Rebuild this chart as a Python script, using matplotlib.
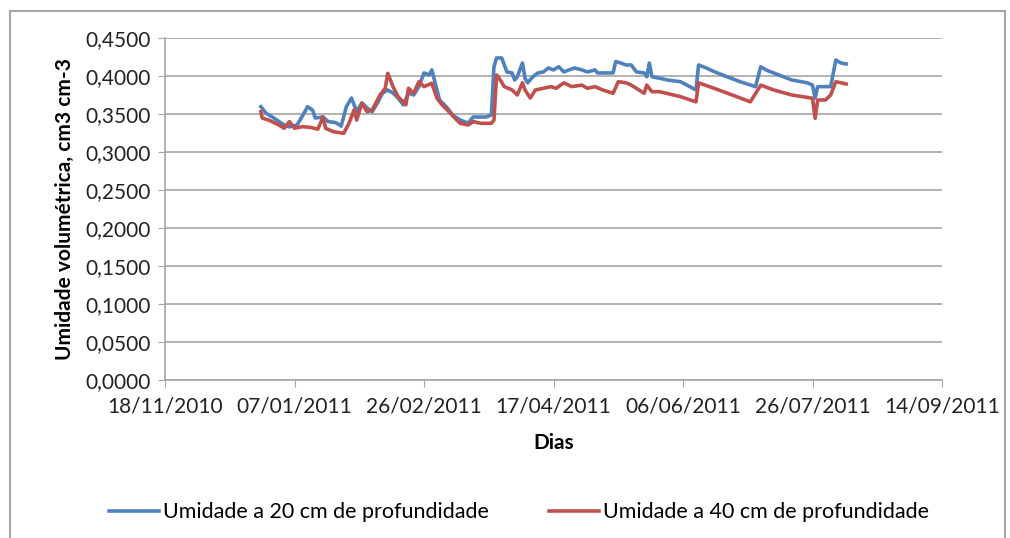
import matplotlib.pyplot as plt
import matplotlib.dates as mdates
import matplotlib.ticker as mticker
import pandas as pd
from matplotlib.patches import Rectangle

# dias contados a partir de 18/11/2010 (origem do eixo)
inicio = pd.Timestamp("2010-11-18")

dias_20 = [37, 39, 42, 46, 48, 51, 54, 55, 57, 58, 61, 63, 66, 68, 70, 72, 73, 74,
           76, 78, 80, 82, 84, 86, 88, 90, 92, 94, 96, 98, 100, 102, 103, 105, 106,
           109, 111, 114, 117, 119, 122, 124, 126, 127, 128, 130, 132, 134, 135, 136,
           138, 139, 140, 142, 144, 146, 148, 150, 152, 154, 156, 158, 161, 163, 166,
           167, 170, 173, 174, 176, 178, 180, 182, 185, 186, 187, 188, 191, 194, 199,
           205, 206, 209, 212, 217, 222, 228, 230, 232, 237, 242, 248, 250, 251, 252,
           254, 257, 259, 261, 263]
umid_20 = [0.3596, 0.351, 0.3447, 0.3355, 0.333, 0.3355, 0.353, 0.3596, 0.355, 0.3447,
           0.346, 0.340, 0.3386, 0.334, 0.3596, 0.371, 0.362, 0.353, 0.3645, 0.358,
           0.353, 0.3645, 0.3776, 0.3816, 0.3776, 0.371, 0.362, 0.3776, 0.375, 0.386,
           0.404, 0.4013, 0.408, 0.3816, 0.3684, 0.358, 0.3487, 0.342, 0.338, 0.346,
           0.346, 0.346, 0.3487, 0.4122, 0.4237, 0.4237, 0.4053, 0.404, 0.3947, 0.399,
           0.417, 0.397, 0.391, 0.399, 0.404, 0.4053, 0.4105, 0.408, 0.4122, 0.4053,
           0.408, 0.4105, 0.408, 0.4053, 0.408, 0.404, 0.404, 0.404, 0.419, 0.417,
           0.4145, 0.4145, 0.4053, 0.404, 0.399, 0.417, 0.399, 0.397, 0.3947, 0.3925,
           0.3816, 0.4145, 0.4105, 0.4057, 0.399, 0.3925, 0.386, 0.4122, 0.408, 0.4013,
           0.3947, 0.391, 0.388, 0.371, 0.386, 0.386, 0.386, 0.421, 0.417, 0.4158]

dias_40 = [37, 37.5, 40, 44, 46, 48, 50, 53, 56, 59, 61, 62, 65, 69, 71, 73, 74, 76,
           78, 80, 83, 85, 86, 88, 90, 93, 94, 96, 98, 100, 103, 105, 107, 109, 112,
           114, 117, 119, 122, 126, 127, 128, 129, 131, 134, 136, 138, 139, 141, 143,
           146, 149, 151, 154, 157, 161, 163, 166, 169, 173, 175, 178, 180, 182, 185,
           186, 188, 191, 199, 205, 206, 212, 219, 226, 230, 235, 242, 250, 251, 252,
           255, 257, 259, 263]
umid_40 = [0.353, 0.3447, 0.342, 0.3355, 0.3312, 0.340, 0.3312, 0.3333, 0.3325, 0.33,
           0.346, 0.3312, 0.3267, 0.3246, 0.3377, 0.3553, 0.342, 0.364, 0.353, 0.3553,
           0.375, 0.3838, 0.4035, 0.386, 0.3728, 0.362, 0.3838, 0.3772, 0.3925, 0.386,
           0.3904, 0.3707, 0.362, 0.3553, 0.3443, 0.3377, 0.3355, 0.340, 0.3377, 0.3377,
           0.342, 0.4013, 0.397, 0.386, 0.3816, 0.375, 0.391, 0.3816, 0.371, 0.3816,
           0.3838, 0.386, 0.3838, 0.391, 0.386, 0.388, 0.3838, 0.386, 0.3816, 0.3772,
           0.3925, 0.391, 0.388, 0.3838, 0.3772, 0.388, 0.3793, 0.3793, 0.3728, 0.366,
           0.391, 0.3838, 0.375, 0.366, 0.388, 0.3816, 0.375, 0.3707, 0.3443, 0.3684,
           0.3684, 0.375, 0.3925, 0.3895]

datas_20 = inicio + pd.to_timedelta(dias_20, unit="D")
datas_40 = inicio + pd.to_timedelta(dias_40, unit="D")

plt.rcParams['font.family'] = ['Lato', 'DejaVu Sans']

fig = plt.figure(figsize=(10.1, 5.38), dpi=100)
ax = fig.add_axes([0.1634, 0.2937, 0.7693, 0.6357])

ax.plot(datas_20, umid_20, color='#4F81BD', linewidth=2.6,
        label='Umidade a 20 cm de profundidade')
ax.plot(datas_40, umid_40, color='#C0504D', linewidth=2.6,
        label='Umidade a 40 cm de profundidade')

ax.set_ylim(0, 0.45)
ax.yaxis.set_major_locator(mticker.MultipleLocator(0.05))
ax.yaxis.set_major_formatter(mticker.FuncFormatter(lambda v, p: f"{v:.4f}".replace('.', ',')))

ticks = [inicio + pd.Timedelta(days=50 * i) for i in range(7)]
ax.set_xlim(ticks[0], ticks[-1])
ax.set_xticks(ticks)
ax.xaxis.set_major_formatter(mdates.DateFormatter('%d/%m/%Y'))

ax.grid(axis='y', color='#A6A6A6', linewidth=1.2)
ax.set_axisbelow(True)
for lado in ['top', 'right']:
    ax.spines[lado].set_visible(False)
for lado in ['left', 'bottom']:
    ax.spines[lado].set_color('#A6A6A6')
    ax.spines[lado].set_linewidth(1.2)
ax.tick_params(axis='both', labelsize=15, color='#A6A6A6', length=5, colors='#222222')
ax.tick_params(axis='x', pad=7)
ax.tick_params(axis='y', pad=5)

ax.set_xlabel('Dias', fontsize=15, fontweight='bold', labelpad=12)
ax.set_ylabel('Umidade volumétrica, cm3 cm-3', fontsize=15, fontweight='bold', labelpad=8)

fig.legend(loc='center', bbox_to_anchor=(0.514, 0.048), ncol=2, frameon=False,
           fontsize=15.5, handlelength=2.3, handletextpad=0.2, columnspacing=2.8)

fig.patches.append(Rectangle((0.01, -0.02), 0.985, 1.0, transform=fig.transFigure,
                             fill=False, edgecolor='#A6A6A6', linewidth=1.5))

fig.savefig('out.png', dpi=100)
